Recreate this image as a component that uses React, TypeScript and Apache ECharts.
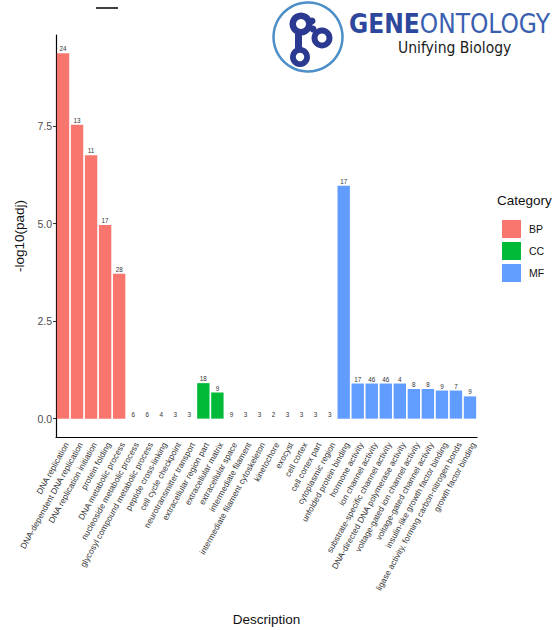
import React, { useEffect, useRef } from "react";
import * as echarts from "echarts";

// GO enrichment terms, grouped by ontology
const bpTerms = [
  "DNA replication",
  "DNA-dependent DNA replication",
  "DNA replication initiation",
  "protein folding",
  "DNA metabolic process",
  "nucleoside metabolic process",
  "glycosyl compound metabolic process",
  "peptide cross-linking",
  "cell cycle checkpoint",
  "neurotransmitter transport",
];
const bpValues = [9.36, 7.53, 6.75, 4.96, 3.71, 0, 0, 0, 0, 0];
const bpCounts = [24, 13, 11, 17, 28, 6, 6, 4, 3, 3];

const ccTerms = [
  "extracellular region part",
  "extracellular matrix",
  "extracellular space",
  "intermediate filament",
  "intermediate filament cytoskeleton",
  "kinetochore",
  "exocyst",
  "cell cortex",
  "cell cortex part",
  "cytoplasmic region",
];
const ccValues = [0.91, 0.67, 0, 0, 0, 0, 0, 0, 0, 0];
const ccCounts = [18, 9, 9, 3, 3, 2, 3, 3, 3, 3];

const mfTerms = [
  "unfolded protein binding",
  "hormone activity",
  "ion channel activity",
  "substrate-specific channel activity",
  "DNA-directed DNA polymerase activity",
  "voltage-gated ion channel activity",
  "voltage-gated channel activity",
  "insulin-like growth factor binding",
  "ligase activity, forming carbon-nitrogen bonds",
  "growth factor binding",
];
const mfValues = [5.97, 0.9, 0.9, 0.9, 0.9, 0.76, 0.76, 0.72, 0.72, 0.57];
const mfCounts = [17, 17, 46, 46, 4, 8, 8, 9, 7, 9];

const yTicks = [0, 2.5, 5, 7.5];

const FONT = "'Liberation Sans', Arial, Helvetica, sans-serif";
const LOGO_FONT = "'DejaVu Sans Condensed', 'DejaVu Sans', sans-serif";
const NAVY = "#2b3990";

export default function App() {
  const ref = useRef<HTMLDivElement>(null);

  useEffect(() => {
    if (!ref.current) return;
    const chart = echarts.init(ref.current, null, { renderer: "svg" });

    const descriptions = [...bpTerms, ...ccTerms, ...mfTerms];
    const counts = [...bpCounts, ...ccCounts, ...mfCounts];
    const groups = [
      { name: "BP", values: bpValues, color: "#F8766D" },
      { name: "CC", values: ccValues, color: "#00BA38" },
      { name: "MF", values: mfValues, color: "#619CFF" },
    ];

    let offset = 0;
    const series = groups.map((g) => {
      const data: (number | null)[] = descriptions.map(() => null);
      g.values.forEach((v, i) => {
        data[offset + i] = v;
      });
      offset += g.values.length;
      return {
        name: g.name,
        type: "bar",
        stack: "all",
        barCategoryGap: "12%",
        data,
        itemStyle: { color: g.color },
        label: {
          show: true,
          position: "top",
          distance: 1.5,
          fontSize: 6.3,
          fontFamily: FONT,
          color: "#333333",
          formatter: (p: any) => String(counts[p.dataIndex]),
        },
      };
    });

    chart.setOption({
      animation: false,
      grid: {
        left: 56,
        right: 79,
        top: 35,
        bottom: 193,
        containLabel: false,
        outerBoundsMode: "none",
      },
      legend: {
        orient: "vertical",
        left: 497,
        top: 215,
        itemWidth: 19,
        itemHeight: 18,
        itemGap: 4,
        icon: "rect",
        selectedMode: false,
        textStyle: { fontSize: 10.5, fontFamily: FONT, color: "#111", padding: [0, 0, 0, 3] },
        data: ["BP", "CC", "MF"],
      },
      xAxis: {
        type: "category",
        data: descriptions,
        name: "Description",
        nameLocation: "middle",
        nameGap: 175,
        nameTextStyle: { fontSize: 13.5, fontFamily: FONT, color: "#111" },
        axisLine: { onZero: false, lineStyle: { color: "#000", width: 1.2 } },
        axisTick: { alignWithLabel: true, length: 3, lineStyle: { color: "#333" } },
        axisLabel: {
          interval: 0,
          rotate: 61,
          fontSize: 8.4,
          fontFamily: FONT,
          color: "#333",
          margin: 4,
          verticalAlign: "top",
        },
      },
      yAxis: {
        type: "value",
        min: -0.47,
        max: 9.83,
        name: "-log10(padj)",
        nameLocation: "middle",
        nameGap: 24,
        nameTextStyle: { fontSize: 13.5, fontFamily: FONT, color: "#111" },
        splitLine: { show: false },
        axisLine: { show: true, lineStyle: { color: "#000", width: 1.2 } },
        axisTick: { show: true, length: 3, customValues: yTicks, lineStyle: { color: "#333" } },
        axisLabel: {
          customValues: yTicks,
          fontSize: 10.5,
          fontFamily: FONT,
          color: "#4d4d4d",
          margin: 4,
          formatter: (v: number) => v.toFixed(1),
        },
      },
      series,
      graphic: [
        {
          type: "line",
          shape: { x1: 96, y1: 8, x2: 118, y2: 8 },
          style: { stroke: "#000", lineWidth: 1.5 },
        },
        {
          type: "text",
          left: 497,
          top: 193,
          style: { text: "Category", fontSize: 13.5, fontFamily: FONT, fill: "#111" },
        },
        // Gene Ontology emblem
        {
          type: "circle",
          shape: { cx: 308, cy: 37, r: 34.5 },
          style: { fill: "#fff", stroke: "#4b8ec8", lineWidth: 2.5 },
        },
        { type: "ring", shape: { cx: 301, cy: 24, r: 11.5, r0: 5 }, style: { fill: NAVY } },
        { type: "circle", shape: { cx: 312, cy: 21, r: 3.5 }, style: { fill: NAVY } },
        { type: "rect", shape: { x: 295, y: 33, width: 7, height: 15 }, style: { fill: NAVY } },
        { type: "ring", shape: { cx: 300, cy: 57, r: 10, r0: 4.2 }, style: { fill: NAVY } },
        { type: "ring", shape: { cx: 322, cy: 38, r: 10.5, r0: 4.5 }, style: { fill: NAVY } },
        { type: "circle", shape: { cx: 313, cy: 29, r: 3.5 }, style: { fill: NAVY } },
        {
          type: "text",
          left: 349,
          top: 11,
          style: {
            text: "{a|GENE}{b|ONTOLOGY}",
            rich: {
              a: { fontSize: 26, fontWeight: "bold", fontFamily: LOGO_FONT, fill: "#2d479c" },
              b: { fontSize: 26, fontFamily: LOGO_FONT, fill: "#3b5fb0" },
            },
          },
        },
        {
          type: "text",
          left: 398,
          top: 40,
          style: { text: "Unifying Biology", fontSize: 15.5, fontFamily: LOGO_FONT, fill: "#1a1a1a" },
        },
      ],
    });

    return () => chart.dispose();
  }, []);

  return (
    <div
      ref={ref}
      style={{ position: "absolute", left: 0, top: 0, width: 556, height: 630, background: "#fff" }}
    />
  );
}
